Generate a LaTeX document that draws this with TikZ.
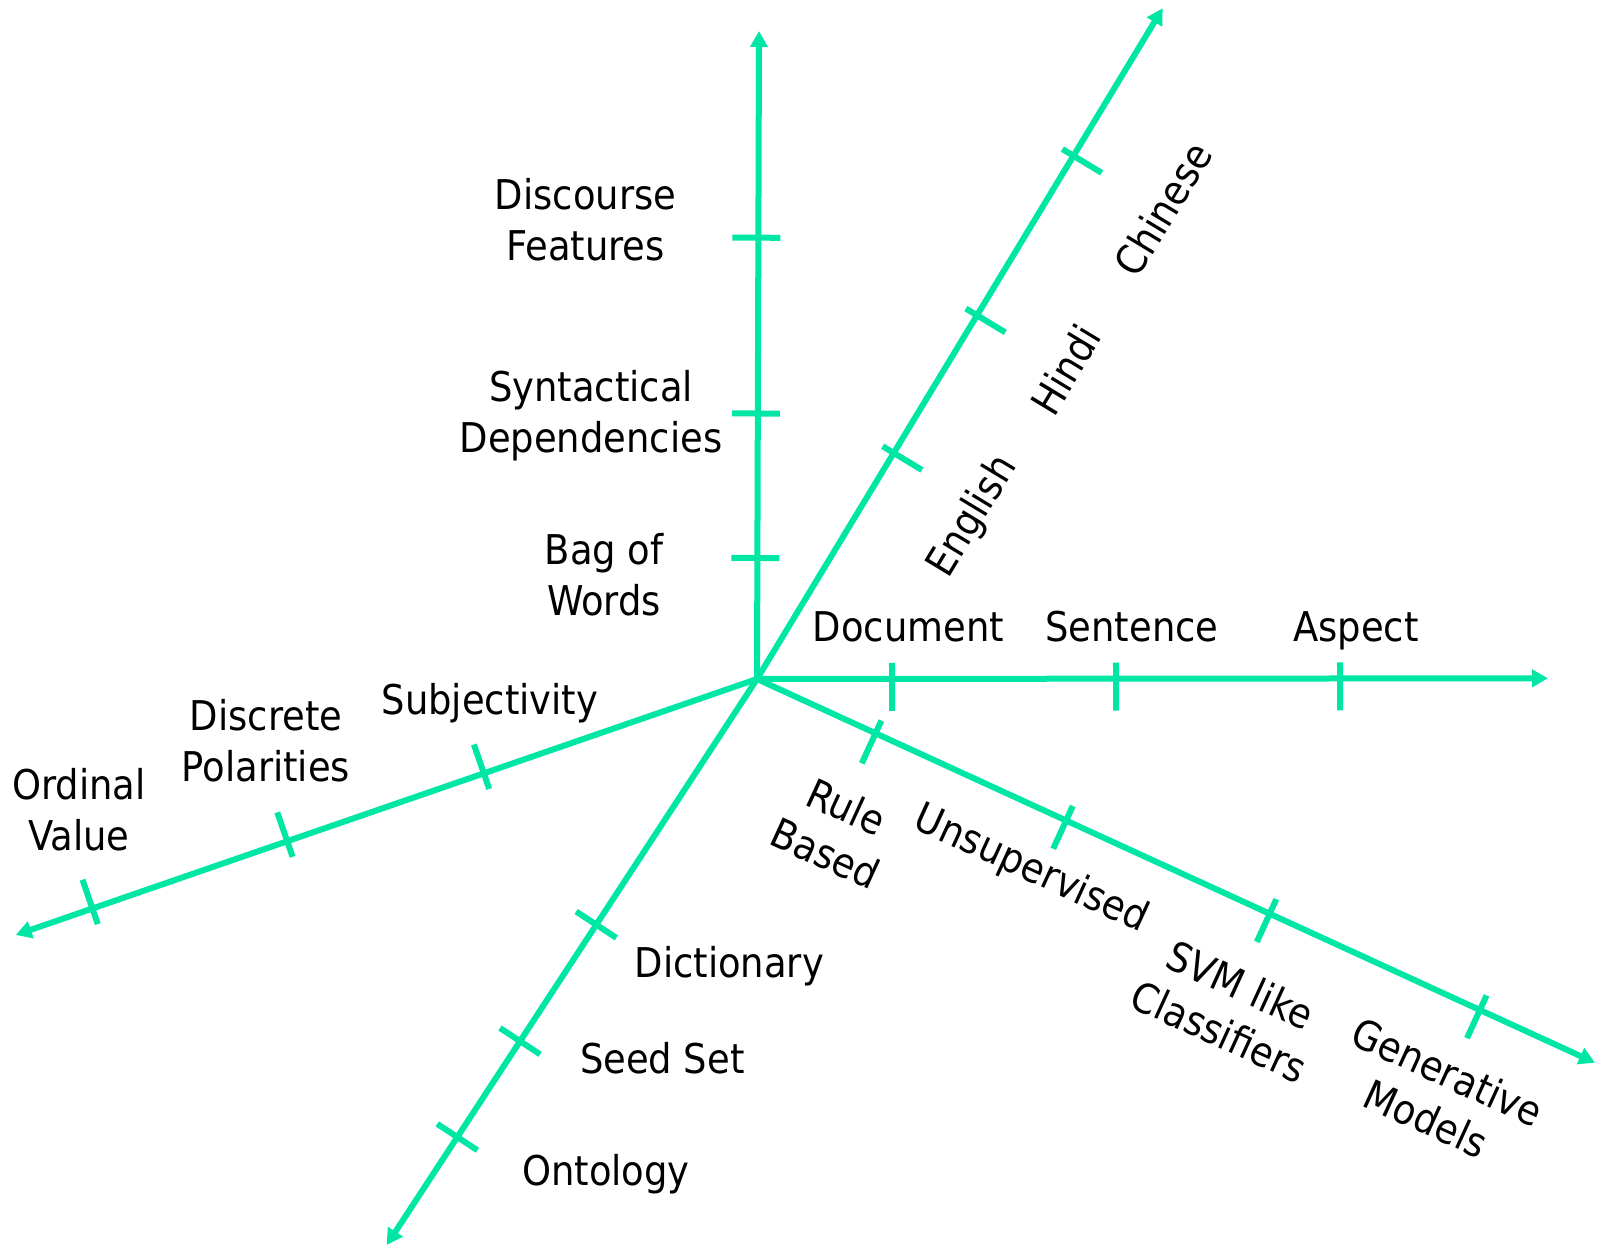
\documentclass[tikz,border=0pt]{standalone}
\usepackage{fontspec}
\setmainfont{DejaVu Sans Condensed}
\usetikzlibrary{arrows.meta,calc}
\definecolor{axisgreen}{RGB}{0,230,165}
\tikzset{
  axisline/.style={draw=axisgreen, line width=3pt, -{Triangle[length=8pt,width=8.5pt]}},
  tickmark/.style={draw=axisgreen, line width=3pt},
  lbl/.style={font=\fontsize{20.5pt}{25.5pt}\selectfont, text=black, inner sep=0pt, align=center},
}
% tick across the axis from #1 towards #2, at distance #3, reaching #4 to the left and #5 to the right
\newcommand\axtick[5]{\draw[tickmark] ($(#1)!#3!(#2)!#4!90:(#2)$) -- ($(#1)!#3!(#2)!#5!-90:(#2)$);}
\begin{document}
\begin{tikzpicture}[x=0.5pt,y=-0.5pt]
\useasboundingbox (0,0) rectangle (1605,1246);

% common origin and axis ends
\coordinate (O) at (757,679);
\coordinate (V) at (759,31);
\coordinate (H) at (1548,678.3);
\coordinate (D) at (1162.7,8.3);
\coordinate (R) at (1595,1062.7);
\coordinate (L) at (15.7,935);
\coordinate (S) at (386.7,1245);

\draw[axisline] (O) -- (V);
\draw[axisline] (O) -- (H);
\draw[axisline] (O) -- (D);
\draw[axisline] (O) -- (R);
\draw[axisline] (O) -- (L);
\draw[axisline] (O) -- (S);

% features
\axtick{O}{V}{60.5pt}{13pt}{11pt}
\axtick{O}{V}{132.75pt}{13pt}{11pt}
\axtick{O}{V}{220.65pt}{13pt}{11pt}
% granularity
\axtick{O}{H}{67.5pt}{8pt}{16pt}
\axtick{O}{H}{179.5pt}{8pt}{16pt}
\axtick{O}{H}{291.5pt}{8pt}{16pt}
% languages
\axtick{O}{D}{132.1pt}{6.5pt}{16.5pt}
\axtick{O}{D}{212.55pt}{6.5pt}{16.5pt}
\axtick{O}{D}{305.75pt}{6.5pt}{16.5pt}
% techniques
\axtick{O}{R}{65.2pt}{7pt}{16.5pt}
\axtick{O}{R}{170pt}{8pt}{15.5pt}
\axtick{O}{R}{281.95pt}{8pt}{15.5pt}
\axtick{O}{R}{397.55pt}{8pt}{15.5pt}
% output
\axtick{O}{L}{144.5pt}{8.25pt}{15.25pt}
\axtick{O}{L}{248.5pt}{8.25pt}{15.25pt}
\axtick{O}{L}{351.55pt}{8.25pt}{15.25pt}
% lexical resources
\axtick{O}{S}{146.8pt}{12pt}{12pt}
\axtick{O}{S}{216.4pt}{12pt}{12pt}
\axtick{O}{S}{273.7pt}{12pt}{12pt}

% labels
\node[lbl] (disc) at (585.5,220) {Discourse\\Features};
\node[lbl] (synt) at (591,415.5) {Syntactical\\Dependencies};
\node[lbl] (bow) at (604,575) {Bag of\\Words};

\node[lbl,anchor=base] (doc) at (908.5,641) {Document};
\node[lbl,anchor=base] (sent) at (1132,641) {Sentence};
\node[lbl,anchor=base] (asp) at (1356,641) {Aspect};

\node[lbl,anchor=base] (subj) at (490,714.5) {Subjectivity};
\node[lbl] (pol) at (266,741) {Discrete\\Polarities};
\node[lbl] (ord) at (79,810) {Ordinal\\Value};

\node[lbl,anchor=base] (dict) at (729.3,977.6) {Dictionary};
\node[lbl,anchor=base] (seed) at (662.3,1073.8) {Seed Set};
\node[lbl,anchor=base] (onto) at (606,1185.4) {Ontology};

\node[lbl,rotate=-24.6] (rule) at (836,830) {Rule\\Based};
\node[lbl,rotate=-24.6] (unsup) at (1031,870) {Unsupervised};
\node[lbl,rotate=-24.6] (svm) at (1230,1008) {SVM like\\Classifiers};
\node[lbl,rotate=-24.6] (gen) at (1437,1095) {Generative\\Models};

\node[lbl,rotate=58.8] (eng) at (973,517) {English};
\node[lbl,rotate=58.8] (hin) at (1065.6,369.6) {Hindi};
\node[lbl,rotate=58.8] (chi) at (1163,209) {Chinese};
\end{tikzpicture}
\end{document}
